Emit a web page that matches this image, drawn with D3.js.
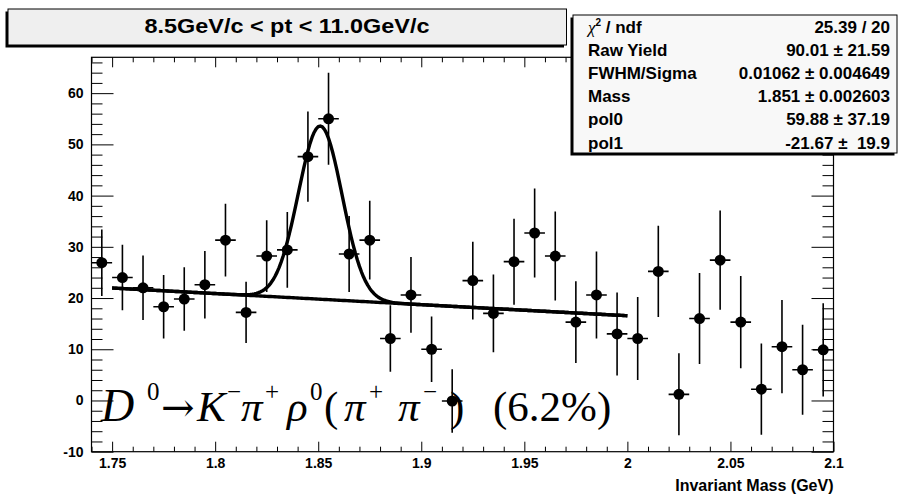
<!DOCTYPE html>
<html>
<head>
<meta charset="utf-8">
<script src="https://cdn.jsdelivr.net/npm/d3@7"></script>
<style>
  html, body { margin: 0; padding: 0; background: #fff; }
  svg { display: block; }
</style>
</head>
<body>
<svg id="chart" width="903" height="496"></svg>
<script>
// ---- histogram: invariant mass, 36 bins of 0.01 GeV on [1.74, 2.10] ----
const massRange = [1.74, 2.1];
const countRange = [-10, 67];
const binWidth = 0.01;
const binCenters = [
  1.745, 1.755, 1.765, 1.775, 1.785, 1.795, 1.805, 1.815, 1.825, 1.835,
  1.845, 1.855, 1.865, 1.875, 1.885, 1.895, 1.905, 1.915, 1.925, 1.935,
  1.945, 1.955, 1.965, 1.975, 1.985, 1.995, 2.005, 2.015, 2.025, 2.035,
  2.045, 2.055, 2.065, 2.075, 2.085, 2.095
];
const binCounts = [
  26.9, 24.0, 22.0, 18.3, 19.8, 22.6, 31.3, 17.2, 28.2, 29.4,
  47.6, 55.0, 28.6, 31.3, 12.1, 20.6, 10.0, -0.1, 23.4, 17.0,
  27.1, 32.7, 28.2, 15.3, 20.6, 13.0, 12.1, 25.2, 1.2, 16.0,
  27.4, 15.3, 2.2, 10.5, 6.0, 9.9
];
const binErrors = [
  6.5, 6.4, 6.3, 6.2, 6.2, 6.6, 7.1, 6.0, 7.0, 7.4,
  8.8, 9.0, 7.4, 7.7, 6.5, 7.4, 6.4, 6.2, 7.6, 7.6,
  8.4, 8.7, 8.7, 8.0, 8.5, 8.1, 8.1, 8.9, 8.0, 8.9,
  9.7, 9.0, 8.9, 9.1, 8.8, 9.1
];

// ---- fit: gaussian signal + linear background ----
const fitRange = [1.75, 2.0];
const rawYield = 90.01;
const sigma = 0.01062;
const peakMass = 1.851;
const pol0 = 59.88;
const pol1 = -21.67;

// ---- axis ticks ----
const xTickValues = [1.75, 1.8, 1.85, 1.9, 1.95, 2.0, 2.05, 2.1];
const xTickLabels = ["1.75", "1.8", "1.85", "1.9", "1.95", "2", "2.05", "2.1"];
const yTickValues = [-10, 0, 10, 20, 30, 40, 50, 60];
const yTickLabels = ["-10", "0", "10", "20", "30", "40", "50", "60"];

// ---- text ----
const titleText = "8.5GeV/c < pt < 11.0GeV/c";
const xAxisTitle = "Invariant Mass (GeV)";
const statNames = ["/ ndf", "Raw Yield", "FWHM/Sigma", "Mass", "pol0", "pol1"];
const statValues = ["25.39 / 20", "90.01 \u00b1 21.59", "0.01062 \u00b1 0.004649",
                    "1.851 \u00b1 0.002603", "59.88 \u00b1 37.19", "-21.67 \u00b1  19.9"];

// ------------------------------------------------------------------------
const svg = d3.select("#chart");
const SANS = "'Liberation Sans', Arial, Helvetica, sans-serif";
const SERIF = "'Liberation Serif', 'Times New Roman', Times, serif";

svg.append("rect").attr("width", 903).attr("height", 496).attr("fill", "#fff");

const frame = { left: 91.5, right: 833.5, top: 57.3, bottom: 451.7 };
const x = d3.scaleLinear().domain(massRange).range([frame.left, frame.right]);
const y = d3.scaleLinear().domain(countRange).range([frame.bottom, frame.top]);

svg.append("defs").append("clipPath").attr("id", "plotClip")
  .append("rect")
  .attr("x", frame.left).attr("y", frame.top)
  .attr("width", frame.right - frame.left).attr("height", frame.bottom - frame.top);

// minor tick positions
const xMinor = d3.range(0, 37).map(i => +(massRange[0] + i * 0.01).toFixed(3))
  .filter(v => !xTickValues.some(t => Math.abs(t - v) < 1e-6));
const yMinor = d3.range(countRange[0], countRange[1], 2)
  .filter(v => !yTickValues.includes(v));

function styleAxis(g, fontSize) {
  g.select(".domain").remove();
  g.selectAll(".tick line").attr("stroke", "#000").attr("stroke-width", 1);
  g.selectAll(".tick text")
    .attr("fill", "#000")
    .style("font-family", SANS)
    .style("font-weight", "bold")
    .style("font-size", fontSize + "px");
}

// bottom axis
svg.append("g").attr("transform", `translate(0,${frame.bottom})`)
  .call(d3.axisBottom(x).tickValues(xTickValues)
    .tickFormat((d, i) => xTickLabels[i]).tickSizeInner(-10).tickSizeOuter(0).tickPadding(6))
  .call(g => styleAxis(g, 14));
svg.append("g").attr("transform", `translate(0,${frame.bottom})`)
  .call(d3.axisBottom(x).tickValues(xMinor).tickFormat("").tickSizeInner(-5).tickSizeOuter(0))
  .call(g => styleAxis(g, 14));
// top axis (ticks only)
svg.append("g").attr("transform", `translate(0,${frame.top})`)
  .call(d3.axisTop(x).tickValues(xTickValues).tickFormat("").tickSizeInner(-10).tickSizeOuter(0))
  .call(g => styleAxis(g, 14));
svg.append("g").attr("transform", `translate(0,${frame.top})`)
  .call(d3.axisTop(x).tickValues(xMinor).tickFormat("").tickSizeInner(-5).tickSizeOuter(0))
  .call(g => styleAxis(g, 14));
// left axis
svg.append("g").attr("transform", `translate(${frame.left},0)`)
  .call(d3.axisLeft(y).tickValues(yTickValues)
    .tickFormat((d, i) => yTickLabels[i]).tickSizeInner(-22).tickSizeOuter(0).tickPadding(8))
  .call(g => styleAxis(g, 14));
svg.append("g").attr("transform", `translate(${frame.left},0)`)
  .call(d3.axisLeft(y).tickValues(yMinor).tickFormat("").tickSizeInner(-11).tickSizeOuter(0))
  .call(g => styleAxis(g, 14));
// right axis (ticks only)
svg.append("g").attr("transform", `translate(${frame.right},0)`)
  .call(d3.axisRight(y).tickValues(yTickValues).tickFormat("").tickSizeInner(-22).tickSizeOuter(0))
  .call(g => styleAxis(g, 14));
svg.append("g").attr("transform", `translate(${frame.right},0)`)
  .call(d3.axisRight(y).tickValues(yMinor).tickFormat("").tickSizeInner(-11).tickSizeOuter(0))
  .call(g => styleAxis(g, 14));

// frame
svg.append("rect")
  .attr("x", frame.left).attr("y", frame.top)
  .attr("width", frame.right - frame.left).attr("height", frame.bottom - frame.top)
  .attr("fill", "none").attr("stroke", "#000").attr("stroke-width", 1.2);

// x axis title
svg.append("text")
  .attr("x", frame.right).attr("y", 491)
  .attr("text-anchor", "end")
  .style("font-family", SANS).style("font-weight", "bold").style("font-size", "16px")
  .text(xAxisTitle);

// ---- decay formula ----
const formulaParts = [
  { t: "D", italic: true, big: true },
  { t: "0", sup: true },
  { t: "\u2192", arrow: true },
  { t: "K", italic: true },
  { t: "\u2212", sup: true },
  { t: "\u03c0", italic: true },
  { t: "+", sup: true },
  { t: "\u03c1", italic: true },
  { t: "0", sup: true },
  { t: "(" },
  { t: "\u03c0", italic: true },
  { t: "+", sup: true },
  { t: "\u03c0", italic: true },
  { t: "\u2212", sup: true },
  { t: ")" },
  { t: "(6.2%)" }
];
// horizontal start of each piece relative to the formula origin
const formulaOffsets = [0, 46, 60, 96, 126, 140, 164, 186, 209, 223, 243, 268, 297, 322, 349, 392];
const formulaOrigin = { x: 101, y: 421 };
const formula = svg.append("text")
  .attr("y", formulaOrigin.y)
  .style("font-family", SERIF).style("font-size", "43px").attr("fill", "#000");
formulaParts.forEach((p, i) => {
  const size = p.sup ? 25 : p.arrow ? 40 : p.big ? 46 : 43;
  formula.append("tspan")
    .attr("x", formulaOrigin.x + formulaOffsets[i])
    .attr("y", p.sup ? formulaOrigin.y - 21 : formulaOrigin.y)
    .style("font-family", p.arrow ? "'DejaVu Serif', serif" : SERIF)
    .style("font-style", p.italic ? "italic" : "normal")
    .style("font-size", size + "px")
    .text(p.t);
});

// ---- fit curves ----
const plot = svg.append("g").attr("clip-path", "url(#plotClip)");
const gaussAmp = rawYield * binWidth / (Math.sqrt(2 * Math.PI) * sigma);
const background = m => pol0 + pol1 * m;
const total = m => background(m) + gaussAmp * Math.exp(-0.5 * ((m - peakMass) / sigma) ** 2);
const nSteps = 250;
const fitGrid = d3.range(0, nSteps + 1).map(i => fitRange[0] + (fitRange[1] - fitRange[0]) * i / nSteps);
const line = fn => d3.line().x(m => x(m)).y(m => y(fn(m)))(fitGrid);

plot.append("path").attr("d", line(background))
  .attr("fill", "none").attr("stroke", "#000").attr("stroke-width", 3.4);
plot.append("path").attr("d", line(total))
  .attr("fill", "none").attr("stroke", "#000").attr("stroke-width", 3.4)
  .attr("stroke-linejoin", "round");

// ---- data points with error bars ----
const bins = binCenters.map((c, i) => ({ c, v: binCounts[i], e: binErrors[i] }));
const pts = plot.append("g").selectAll("g").data(bins).join("g");
pts.append("line")
  .attr("x1", d => x(d.c)).attr("x2", d => x(d.c))
  .attr("y1", d => y(d.v - d.e)).attr("y2", d => y(d.v + d.e))
  .attr("stroke", "#000").attr("stroke-width", 1.6);
pts.append("line")
  .attr("x1", d => x(d.c - binWidth / 2)).attr("x2", d => x(d.c + binWidth / 2))
  .attr("y1", d => y(d.v)).attr("y2", d => y(d.v))
  .attr("stroke", "#000").attr("stroke-width", 1.6);
pts.append("circle")
  .attr("cx", d => x(d.c)).attr("cy", d => y(d.v)).attr("r", 5.5)
  .attr("fill", "#000");

// ---- boxes with shadow ----
function paneBox(bx, by, bw, bh, fill) {
  svg.append("rect").attr("x", bx - 2.5).attr("y", by + 2.5)
    .attr("width", bw).attr("height", bh).attr("fill", "#000");
  svg.append("rect").attr("x", bx).attr("y", by)
    .attr("width", bw).attr("height", bh)
    .attr("fill", fill).attr("stroke", "#000").attr("stroke-width", 1);
}

// title pane
paneBox(8, 9, 558.5, 36, "#efefef");
svg.append("text")
  .attr("x", 287).attr("y", 33.3)
  .attr("text-anchor", "middle")
  .attr("textLength", 285).attr("lengthAdjust", "spacingAndGlyphs")
  .style("font-family", SANS).style("font-weight", "bold").style("font-size", "21px")
  .text(titleText);

// statistics pane
const stat = { x: 573, y: 15, w: 324, h: 138 };
paneBox(stat.x, stat.y, stat.w, stat.h, "#f8f8f8");
const rowY = i => 32.5 + i * 23.2;
statNames.forEach((name, i) => {
  const t = svg.append("text")
    .attr("x", 588).attr("y", rowY(i))
    .style("font-family", SANS).style("font-weight", "bold").style("font-size", "17px");
  if (i === 0) {
    t.append("tspan").style("font-family", SERIF).style("font-style", "italic")
      .style("font-weight", "normal").text("\u03c7");
    t.append("tspan").attr("dy", -7).style("font-size", "10px").text("2");
    t.append("tspan").attr("dy", 7).text(" " + name);
  } else {
    t.text(name);
  }
  svg.append("text")
    .attr("x", 890).attr("y", rowY(i))
    .attr("text-anchor", "end")
    .style("font-family", SANS).style("font-weight", "bold").style("font-size", "17px")
    .style("white-space", "pre")
    .attr("xml:space", "preserve")
    .text(statValues[i]);
});
</script>
</body>
</html>
